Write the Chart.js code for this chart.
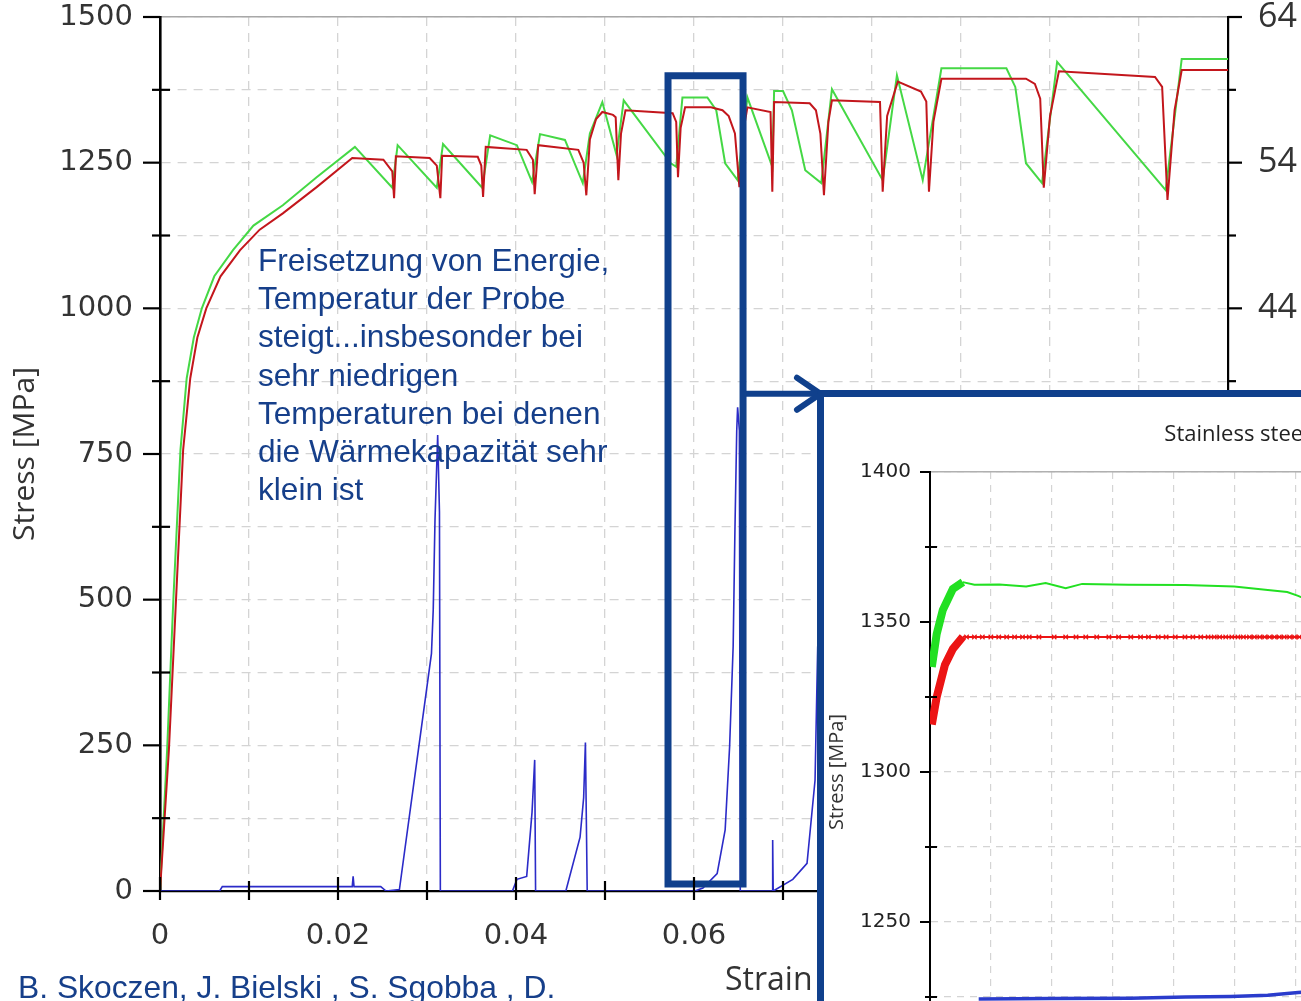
<!DOCTYPE html>
<html>
<head>
<meta charset="utf-8">
<script src="https://cdn.jsdelivr.net/npm/chart.js@4.4.1/dist/chart.umd.min.js"></script>
<style>
  html, body { margin: 0; padding: 0; background: #fff; width: 1301px; height: 1001px; overflow: hidden; }
  body { position: relative; }
  #main { position: absolute; left: 0; top: 0; }
  .note { position: absolute; left: 258px; top: 241px; font: 31.6px/38.2px "Liberation Sans", Arial, sans-serif; color: #163f8a; white-space: nowrap; }
  #xtitle { position: absolute; left: 725px; top: 962px; font: 32px/32px "Open Sans", sans-serif; color: #333; }
  #credit { position: absolute; left: 18px; top: 972px; font: 31.8px/31.8px "Liberation Sans", Arial, sans-serif; color: #163f8a; white-space: nowrap; }
  #insetBox { position: absolute; left: 817px; top: 390px; width: 477px; height: 604px; border-top: 7px solid #10408c; border-left: 7px solid #10408c; border-top-left-radius: 4px; background: #fff; overflow: hidden; }
  #inset { position: absolute; left: 0; top: 0; }
</style>
</head>
<body>
<canvas id="main" width="1301" height="1001" style="width:1301px;height:1001px"></canvas>
<div class="note">Freisetzung von Energie,<br>Temperatur der Probe<br>steigt...insbesonder bei<br>sehr niedrigen<br>Temperaturen bei denen<br>die Wärmekapazität sehr<br>klein ist</div>
<div id="xtitle">Strain</div>
<div id="credit">B. Skoczen, J. Bielski , S. Sgobba , D.</div>
<div id="insetBox"><canvas id="inset" width="825" height="738" style="width:825px;height:738px"></canvas></div>
<script>
'use strict';
// main plot: [strain, stress MPa]
const redCurve = [[0,0],[0.0010,242],[0.0018,500],[0.0026,757],[0.0034,880],[0.0042,950],[0.0052,1000],[0.0068,1055],
  [0.0090,1100],[0.0112,1135],[0.0138,1163],[0.0176,1208],[0.0216,1258],[0.0251,1255],[0.0261,1235],[0.0263,1189],
  [0.0265,1261],[0.0303,1258],[0.0311,1245],[0.0315,1189],[0.0317,1262],[0.0357,1260],[0.0361,1245],[0.0363,1191],
  [0.0366,1277],[0.0412,1272],[0.0419,1255],[0.0421,1196],[0.0425,1280],[0.0470,1272],[0.0476,1250],[0.0479,1194],
  [0.0483,1290],[0.0490,1325],[0.0497,1337],[0.0509,1332],[0.0512,1328],[0.0515,1220],[0.0518,1300],[0.0523,1340],
  [0.0576,1335],[0.0580,1320],[0.0582,1225],[0.0585,1310],[0.0590,1345],[0.0619,1345],[0.0632,1340],[0.0639,1330],
  [0.0646,1300],[0.0651,1208],[0.0655,1300],[0.0660,1345],[0.0686,1337],[0.0688,1200],[0.0690,1354],[0.0730,1352],
  [0.0737,1340],[0.0742,1300],[0.0746,1194],[0.0751,1320],[0.0755,1357],[0.0809,1354],[0.0812,1200],[0.0817,1330],
  [0.0829,1389],[0.0855,1372],[0.0861,1355],[0.0864,1200],[0.0869,1320],[0.0878,1394],[0.0973,1394],[0.0983,1385],
  [0.0989,1360],[0.0993,1207],[0.1000,1330],[0.1010,1407],[0.1118,1397],[0.1126,1380],[0.1132,1186],[0.1140,1340],
  [0.1148,1409],[0.1200,1409]];
const greenCurve = [[0,0],[0.0008,242],[0.0015,500],[0.0023,757],[0.0030,880],[0.0038,950],[0.0047,1000],[0.0061,1055],
  [0.0082,1100],[0.0105,1142],[0.0138,1177],[0.0176,1225],[0.0219,1277],[0.0261,1207],[0.0267,1280],[0.0311,1207],
  [0.0318,1282],[0.0362,1207],[0.0371,1297],[0.0401,1280],[0.0418,1217],[0.0427,1299],[0.0455,1289],[0.0475,1215],
  [0.0483,1300],[0.0497,1354],[0.0513,1263],[0.0521,1357],[0.0574,1249],[0.0580,1243],[0.0587,1362],[0.0615,1362],
  [0.0625,1340],[0.0635,1249],[0.0649,1220],[0.0660,1362],[0.0688,1243],[0.0690,1373],[0.0700,1373],[0.0710,1340],
  [0.0725,1237],[0.0743,1215],[0.0755,1376],[0.0812,1220],[0.0828,1400],[0.0857,1220],[0.0878,1412],[0.0951,1412],
  [0.0961,1380],[0.0973,1249],[0.0991,1215],[0.1008,1423],[0.1130,1203],[0.1148,1428],[0.1200,1428]];
// [strain, temperature K] on the right axis
const blueCurve = [[0,4],[0.0067,4],[0.0070,4.3],[0.0099,4.3],[0.0216,4.3],[0.0217,5.0],[0.0218,4.3],[0.0248,4.3],
  [0.0254,4],[0.0269,4.1],[0.0305,20.3],[0.0307,23.3],[0.0309,29.5],[0.0312,35.3],[0.0314,30.0],[0.0315,4],
  [0.0396,4],[0.0401,4.8],[0.0412,5.0],[0.0418,9.4],[0.0421,13.0],[0.0422,4],[0.0456,4],[0.0472,7.7],[0.0476,10.4],
  [0.0478,14.2],[0.0480,4],[0.0601,4],[0.0610,4.2],[0.0626,5.2],[0.0635,8.2],[0.0640,13.9],[0.0644,20.8],[0.0646,28.8],
  [0.0648,35.6],[0.0649,37.2],[0.0651,35.6],[0.0652,4],[0.0688,4],[0.06884,7.5],[0.0689,4],[0.0711,4.8],[0.0727,5.9],
  [0.0736,11.6],[0.0739,20.8]];
// zoom frame + arrow, in strain / stress units
const zoomFrame = [[0.05708,700],[0.05708,1399],[0.06551,1399],[0.06551,12],[0.05708,12],[0.05708,700]];
const arrowShaft = [[0.06551,853.5],[0.07421,853.5]];
const arrowHead = [[0.07157,881],[0.07421,853.5],[0.07157,826]];

const strainTicks = [0,0.01,0.02,0.03,0.04,0.05,0.06,0.07,0.08,0.09,0.10,0.11,0.12];
const strainLabels = [0,0.02,0.04,0.06,0.08,0.10,0.12];
const stressTicks = [0,125,250,375,500,625,750,875,1000,1125,1250,1375,1500];
const stressLabels = [0,250,500,750,1000,1250,1500];
const tempTicks = [4,9,14,19,24,29,34,39,44,49,54,59,64];
const tempLabels = [4,14,24,34,44,54,64];

// inset: [sample step, stress MPa]
const insetGreen = [[0.3,1335],[1.1,1346],[2.1,1354],[3.75,1361],[5.4,1363.3],[7.3,1362.4],[11.4,1362.5],[15.8,1361.8],
  [19.0,1363],[22.3,1361.3],[25.0,1362.7],[32.6,1362.4],[41.9,1362.3],[50.0,1361.8],[55.5,1360.7],[58.7,1360],
  [60.5,1358.7],[63.6,1356]];
const insetRed = [[0.3,1315.8],[1.1,1325],[2.45,1335.7],[3.75,1341],[5.4,1345.1],[6.0,1345],[7.3,1345],[8.6,1345],
  [10.0,1345],[11.3,1345],[12.6,1345],[13.9,1345],[15.2,1345],[16.3,1345],[17.9,1345],[20.4,1345],[22.3,1345],
  [24.0,1345],[25.6,1345],[27.4,1345],[29.4,1345],[31.0,1345],[33.0,1345],[34.6,1345],[35.9,1345],[37.5,1345],
  [38.8,1345],[40.3,1345],[41.9,1345],[43.2,1345],[44.5,1345],[45.7,1345],[46.7,1345],[47.6,1345],[48.6,1345],
  [49.6,1345],[50.6,1345],[51.5,1345],[52.5,1345],[53.3,1345],[54.2,1345],[55.0,1345],[55.8,1345],[56.6,1345],
  [57.4,1345],[58.2,1345],[59.1,1345],[59.9,1345],[60.7,1345],[61.5,1345],[62.3,1345]];
const insetBlue = [[8,1224.3],[20,1224.5],[33,1224.6],[42,1225],[49.4,1225.2],[55.5,1225.6],[60.5,1226.5],[64,1227]];
const insetStepTicks = [0,10,20,30,40,50,60,70,80,90,100,110];
const insetStressTicks = [1200,1225,1250,1275,1300,1325,1350,1375,1400];
const insetStressLabels = [1200,1250,1300,1350,1400];

const has = (arr, v) => arr.some(a => Math.abs(a - v) < 1e-9);
const pts = (arr) => arr.map(([x, y]) => ({x, y}));
const setTicks = (list) => (s) => { s.ticks = list.map(v => ({value: v})); };

// axis tick marks (long/short), drawn from the scales' own ticks
const tickMarks = (marks) => ({
  id: 'tickMarks',
  afterDraw(chart) {
    const ctx = chart.ctx;
    ctx.save();
    ctx.strokeStyle = '#000';
    for (const m of marks) {
      const sc = chart.scales[m.scale];
      ctx.lineWidth = m.width;
      const base = m.edge === 'top' ? sc.top : m.edge === 'right' ? sc.right : sc.left;
      for (const t of sc.ticks) {
        const [a, b] = has(m.labels, t.value) ? m.major : m.minor;
        const p = sc.getPixelForValue(t.value);
        ctx.beginPath();
        if (sc.isHorizontal()) { ctx.moveTo(p, base + a); ctx.lineTo(p, base + b); }
        else { ctx.moveTo(base + a, p); ctx.lineTo(base + b, p); }
        ctx.stroke();
      }
    }
    ctx.restore();
  }
});

const line = (data, color, width, axis, order, extra) => Object.assign({
  data: pts(data), borderColor: color, borderWidth: width, pointRadius: 0, tension: 0,
  fill: false, xAxisID: 'x', yAxisID: axis, order: order
}, extra || {});

const gridColor = '#d4d4d4';
const frameBlue = '#10408c';

new Chart(document.getElementById('main'), {
  type: 'line',
  data: {
    datasets: [
      line(zoomFrame, frameBlue, 7, 'y', 0, {borderJoinStyle: 'miter'}),
      line(arrowShaft, frameBlue, 6, 'y', 0),
      line(arrowHead, frameBlue, 6, 'y', 0, {borderCapStyle: 'round', borderJoinStyle: 'miter'}),
      line(blueCurve, '#2b2bc8', 1.6, 'y2', 1),
      line(redCurve, '#c3161c', 2, 'y', 2),
      line(greenCurve, '#45d845', 2, 'y', 3),
    ],
  },
  options: {
    responsive: false, animation: false,
    layout: {padding: {top: 17, left: 0, right: 0, bottom: 0}},
    plugins: {legend: {display: false}, tooltip: {enabled: false}},
    scales: {
      x: {
        type: 'linear', axis: 'x', position: 'bottom', min: 0, max: 0.12,
        afterBuildTicks: setTicks(strainTicks),
        ticks: {padding: 28, color: '#333', font: {family: '"DejaVu Sans"', size: 29},
          maxRotation: 0, autoSkip: false,
          callback: v => has(strainLabels, v) ? (v === 0 ? '0' : v.toFixed(2)) : ''},
        grid: {color: gridColor, lineWidth: 1.3, drawTicks: false},
        border: {color: '#000', width: 2.2, dash: [9, 7]},
        afterFit: s => { s.height = 110; s.paddingLeft = 0; s.paddingRight = 0; },
      },
      xTop: {
        type: 'linear', axis: 'x', position: 'top', min: 0, max: 0.12,
        ticks: {display: false}, grid: {display: false, drawTicks: false},
        border: {color: '#a8a8a8', width: 1.6},
        afterFit: s => { s.height = 0; s.paddingLeft = 0; s.paddingRight = 0; },
      },
      y: {
        type: 'linear', position: 'left', min: 0, max: 1500,
        afterBuildTicks: setTicks(stressTicks),
        ticks: {padding: 27, color: '#333', font: {family: '"DejaVu Sans"', size: 29, lineHeight: 1}, autoSkip: false,
          callback: v => has(stressLabels, v) ? String(v) : ''},
        grid: {color: gridColor, lineWidth: 1.3, drawTicks: false},
        border: {color: '#000', width: 2.6, dash: [9, 7]},
        title: {display: true, text: 'Stress [MPa]', color: '#333',
          font: {family: '"Open Sans"', size: 30}, padding: {top: 7, bottom: 0}},
        afterFit: s => { s.width = 160; s.paddingTop = 0; s.paddingBottom = 0; },
      },
      y2: {
        type: 'linear', axis: 'y', position: 'right', min: 4, max: 64,
        afterBuildTicks: setTicks(tempTicks),
        ticks: {padding: 30, color: '#333', font: {family: '"Open Sans"', size: 34, lineHeight: 1}, autoSkip: false,
          callback: v => has(tempLabels, v) ? String(v) : ''},
        grid: {display: false, drawTicks: false},
        border: {color: '#000', width: 2.2},
        afterFit: s => { s.width = 73; s.paddingTop = 0; s.paddingBottom = 0; },
      },
    },
  },
  plugins: [tickMarks([
    {scale: 'x', edge: 'top', labels: strainLabels, major: [-14, 9], minor: [-10, 9], width: 2.2},
    {scale: 'y', edge: 'right', labels: stressLabels, major: [-17, 0], minor: [-8, 10], width: 2.2},
    {scale: 'y2', edge: 'left', labels: tempLabels, major: [0, 14], minor: [0, 8], width: 2.2},
  ])],
});

new Chart(document.getElementById('inset'), {
  type: 'line',
  data: {
    datasets: [
      line(insetBlue, '#2a3ccc', 3.5, 'y', 1),
      line(insetRed, '#ec1414', 2, 'y', 2, {
        pointStyle: 'crossRot', pointRadius: c => c.dataIndex < 5 ? 0 : 3.2,
        pointBorderColor: '#ec1414', pointBorderWidth: 1.2,
        segment: {borderWidth: c => c.p0DataIndex < 4 ? 8 : 2}}),
      line(insetGreen, '#22e022', 2, 'y', 3, {
        segment: {borderWidth: c => c.p0DataIndex < 4 ? 8 : 2}}),
    ],
  },
  options: {
    responsive: false, animation: false,
    layout: {padding: {top: 0, left: 0, right: 0, bottom: 0}},
    plugins: {
      legend: {display: false}, tooltip: {enabled: false},
      title: {display: true, text: 'Stainless steel', color: '#222',
        font: {family: '"Open Sans"', size: 22, weight: 'normal', lineHeight: 1.2}, padding: {top: 25, bottom: 23.6}},
    },
    scales: {
      x: {
        type: 'linear', axis: 'x', position: 'bottom', min: 0, max: 117.3,
        afterBuildTicks: setTicks(insetStepTicks),
        ticks: {display: false},
        grid: {color: gridColor, lineWidth: 1.2, drawTicks: false},
        border: {display: false, dash: [7, 6]},
        afterFit: s => { s.height = 63; s.paddingLeft = 0; s.paddingRight = 0; },
      },
      xTop: {
        type: 'linear', axis: 'x', position: 'top', min: 0, max: 117.3,
        ticks: {display: false}, grid: {display: false, drawTicks: false},
        border: {color: '#b0b0b0', width: 1.4},
        afterFit: s => { s.height = 0; s.paddingLeft = 0; s.paddingRight = 0; },
      },
      y: {
        type: 'linear', position: 'left', min: 1200, max: 1400,
        afterBuildTicks: setTicks(insetStressTicks),
        ticks: {padding: 19, color: '#222', font: {family: '"DejaVu Sans"', size: 20}, autoSkip: false,
          callback: v => has(insetStressLabels, v) ? String(v) : ''},
        grid: {color: gridColor, lineWidth: 1.2, drawTicks: false},
        border: {color: '#000', width: 2, dash: [7, 6]},
        title: {display: true, text: 'Stress [MPa]', color: '#333',
          font: {family: '"Open Sans"', size: 20}, padding: {top: 1, bottom: 0}},
        afterFit: s => { s.width = 106; s.paddingTop = 0; s.paddingBottom = 0; },
      },
    },
  },
  plugins: [tickMarks([
    {scale: 'y', edge: 'right', labels: insetStressLabels, major: [-10, 0], minor: [-5, 7], width: 2},
  ])],
});
</script>
</body>
</html>
